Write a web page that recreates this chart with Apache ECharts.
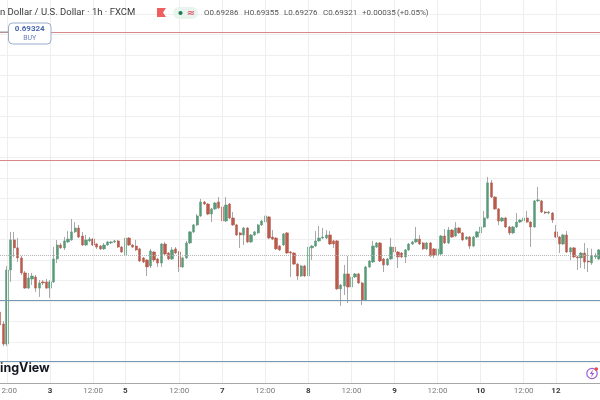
<!DOCTYPE html>
<html>
<head>
<meta charset="utf-8">
<script src="https://cdn.jsdelivr.net/npm/echarts@6/dist/echarts.min.js"></script>
<style>
html,body{margin:0;padding:0;background:#fff;}
#chart{width:600px;height:400px;}
</style>
</head>
<body>
<div id="chart"></div>
<script>
// ---- data (hourly AUD/USD candles) ----
const opens = [
0.69046,0.68988,0.68890,0.69251,0.69398,0.69359,0.69310,0.69237,0.69163,0.69207,
0.69217,0.69163,0.69193,0.69193,0.69163,0.69193,0.69305,0.69373,0.69359,0.69388,
0.69398,0.69437,0.69456,0.69417,0.69373,0.69393,0.69402,0.69378,0.69368,0.69354,
0.69373,0.69383,0.69388,0.69393,0.69363,0.69324,0.69407,0.69373,0.69368,0.69354,
0.69310,0.69300,0.69271,0.69339,0.69305,0.69285,0.69378,0.69334,0.69305,0.69354,
0.69339,0.69266,0.69310,0.69383,0.69437,0.69471,0.69515,0.69583,0.69573,0.69524,
0.69549,0.69583,0.69559,0.69490,0.69573,0.69505,0.69471,0.69432,0.69422,0.69456,
0.69388,0.69422,0.69432,0.69471,0.69485,0.69510,0.69412,0.69407,0.69368,0.69373,
0.69432,0.69339,0.69334,0.69280,0.69222,0.69271,0.69222,0.69359,0.69368,0.69393,
0.69407,0.69407,0.69422,0.69393,0.69393,0.69159,0.69173,0.69232,0.69168,0.69217,
0.69232,0.69188,0.69105,0.69266,0.69290,0.69363,0.69383,0.69305,0.69276,0.69305,
0.69363,0.69339,0.69334,0.69315,0.69349,0.69378,0.69388,0.69402,0.69383,0.69354,
0.69383,0.69354,0.69324,0.69329,0.69417,0.69383,0.69446,0.69417,0.69456,0.69432,
0.69402,0.69412,0.69368,0.69412,0.69432,0.69461,0.69505,0.69676,0.69607,0.69549,
0.69490,0.69505,0.69461,0.69432,0.69461,0.69485,0.69490,0.69505,0.69485,0.69461,
0.69588,0.69588,0.69534,0.69529,0.69529,0.69437,0.69412,0.69378,0.69422,0.69339,
0.69359,0.69315,0.69310,0.69334,0.69295,0.69286,0.69315,0.69305
];
const closes = [
0.68983,0.68890,0.69251,0.69398,0.69359,0.69310,0.69237,0.69163,0.69212,0.69222,
0.69163,0.69188,0.69188,0.69163,0.69193,0.69305,0.69373,0.69359,0.69393,0.69402,
0.69437,0.69456,0.69412,0.69373,0.69398,0.69402,0.69373,0.69363,0.69354,0.69373,
0.69388,0.69388,0.69393,0.69363,0.69339,0.69407,0.69373,0.69363,0.69349,0.69295,
0.69290,0.69266,0.69344,0.69300,0.69285,0.69378,0.69329,0.69305,0.69349,0.69334,
0.69266,0.69310,0.69383,0.69437,0.69471,0.69515,0.69583,0.69573,0.69524,0.69549,
0.69578,0.69554,0.69490,0.69568,0.69505,0.69471,0.69422,0.69422,0.69456,0.69388,
0.69422,0.69437,0.69471,0.69490,0.69515,0.69407,0.69402,0.69354,0.69349,0.69427,
0.69334,0.69334,0.69280,0.69222,0.69271,0.69222,0.69363,0.69368,0.69393,0.69407,
0.69412,0.69422,0.69378,0.69378,0.69159,0.69178,0.69232,0.69168,0.69217,0.69232,
0.69188,0.69105,0.69266,0.69295,0.69368,0.69383,0.69295,0.69276,0.69305,0.69363,
0.69339,0.69315,0.69315,0.69349,0.69378,0.69388,0.69402,0.69378,0.69354,0.69383,
0.69320,0.69324,0.69354,0.69417,0.69383,0.69446,0.69412,0.69456,0.69432,0.69398,
0.69412,0.69368,0.69412,0.69437,0.69461,0.69505,0.69676,0.69607,0.69549,0.69490,
0.69505,0.69461,0.69432,0.69461,0.69485,0.69495,0.69505,0.69485,0.69461,0.69588,
0.69593,0.69534,0.69529,0.69534,0.69495,0.69412,0.69378,0.69422,0.69339,0.69359,
0.69315,0.69310,0.69334,0.69290,0.69290,0.69321,0.69320,0.69349
];
const lows = [
0.68968,0.68880,0.68880,0.69193,0.69315,0.69290,0.69227,0.69159,0.69159,0.69178,
0.69144,0.69120,0.69178,0.69159,0.69115,0.69188,0.69285,0.69354,0.69349,0.69383,
0.69393,0.69432,0.69407,0.69368,0.69368,0.69388,0.69368,0.69354,0.69349,0.69349,
0.69368,0.69378,0.69383,0.69359,0.69334,0.69320,0.69368,0.69359,0.69344,0.69290,
0.69285,0.69222,0.69261,0.69290,0.69266,0.69266,0.69324,0.69300,0.69300,0.69329,
0.69241,0.69261,0.69305,0.69378,0.69432,0.69466,0.69510,0.69568,0.69519,0.69485,
0.69544,0.69549,0.69485,0.69485,0.69500,0.69466,0.69417,0.69359,0.69373,0.69383,
0.69383,0.69417,0.69427,0.69466,0.69480,0.69402,0.69398,0.69349,0.69344,0.69368,
0.69329,0.69217,0.69276,0.69202,0.69217,0.69217,0.69217,0.69300,0.69363,0.69388,
0.69402,0.69402,0.69373,0.69359,0.69154,0.69076,0.69129,0.69090,0.69163,0.69212,
0.69183,0.69080,0.69100,0.69261,0.69285,0.69359,0.69290,0.69241,0.69271,0.69300,
0.69334,0.69261,0.69310,0.69285,0.69344,0.69373,0.69383,0.69373,0.69349,0.69349,
0.69315,0.69310,0.69320,0.69324,0.69378,0.69378,0.69407,0.69412,0.69427,0.69393,
0.69398,0.69354,0.69363,0.69407,0.69344,0.69456,0.69500,0.69602,0.69544,0.69471,
0.69485,0.69456,0.69422,0.69427,0.69456,0.69480,0.69485,0.69480,0.69363,0.69456,
0.69583,0.69529,0.69524,0.69524,0.69480,0.69407,0.69334,0.69373,0.69334,0.69300,
0.69310,0.69251,0.69261,0.69256,0.69241,0.69276,0.69305,0.69300
];
const highs = [
0.69066,0.69002,0.69271,0.69437,0.69437,0.69407,0.69320,0.69246,0.69237,0.69237,
0.69227,0.69202,0.69202,0.69207,0.69202,0.69363,0.69398,0.69383,0.69412,0.69441,
0.69500,0.69485,0.69471,0.69437,0.69422,0.69412,0.69407,0.69383,0.69373,0.69383,
0.69393,0.69393,0.69398,0.69398,0.69368,0.69412,0.69412,0.69378,0.69398,0.69359,
0.69315,0.69305,0.69354,0.69344,0.69310,0.69383,0.69388,0.69339,0.69363,0.69363,
0.69344,0.69315,0.69393,0.69441,0.69476,0.69524,0.69598,0.69588,0.69578,0.69554,
0.69583,0.69607,0.69607,0.69607,0.69578,0.69534,0.69476,0.69437,0.69461,0.69461,
0.69427,0.69441,0.69476,0.69495,0.69554,0.69515,0.69446,0.69412,0.69373,0.69432,
0.69437,0.69344,0.69339,0.69285,0.69276,0.69276,0.69368,0.69373,0.69441,0.69466,
0.69456,0.69446,0.69441,0.69398,0.69398,0.69183,0.69276,0.69320,0.69222,0.69237,
0.69237,0.69193,0.69271,0.69300,0.69393,0.69388,0.69388,0.69310,0.69310,0.69407,
0.69368,0.69344,0.69339,0.69354,0.69383,0.69393,0.69461,0.69422,0.69388,0.69388,
0.69388,0.69359,0.69359,0.69422,0.69451,0.69461,0.69451,0.69485,0.69461,0.69437,
0.69417,0.69417,0.69417,0.69441,0.69466,0.69539,0.69705,0.69690,0.69612,0.69554,
0.69510,0.69510,0.69466,0.69466,0.69529,0.69500,0.69583,0.69539,0.69490,0.69593,
0.69656,0.69593,0.69539,0.69539,0.69534,0.69471,0.69417,0.69427,0.69441,0.69363,
0.69363,0.69320,0.69339,0.69383,0.69359,0.69355,0.69334,0.69354
];
// x-axis tick labels and the bar each one sits on
const tickBars   = [2, 14, 26, 35, 50, 62, 74, 86, 98, 110, 122, 134, 146, 155];
const tickLabels = ['12:00','3','12:00','5','12:00','7','12:00','8','12:00','9','12:00','10','12:00','12'];
// horizontal drawn levels
const resistanceLevels = [0.70413, 0.69788];
const supportLevels    = [0.69105, 0.68807];
const lastPrice = 0.69321;
// legend texts
const titleText = 'n Dollar / U.S. Dollar \u00b7 1h \u00b7 FXCM';
const legendItems = ['O0.69286', 'H0.69355', 'L0.69276', 'C0.69321', '+0.00035', '(+0.05%)'];
const buyPrice = '0.69324';

const N = opens.length;
[closes, lows, highs].forEach((a, k) => { if (a.length !== N) throw new Error('length mismatch ' + k + ' ' + a.length + ' vs ' + N); });

const categories = opens.map((_, i) => 'bar' + i);
const tickMap = {};
tickBars.forEach((b, i) => { tickMap[b] = tickLabels[i]; });

const full = opens.map((o, i) => [o, closes[i], lows[i], highs[i]]);
const bodies = opens.map((o, i) => [o, closes[i], Math.min(o, closes[i]), Math.max(o, closes[i])]);

const UP = '#5a9a7a', DOWN = '#b85a4c', WICK = '#a9a9a9';
const legendX = [204, 244, 284, 323, 362, 397];
const emptyLine = opens.map(() => null);
const noLabel = {show: false};

const chart = echarts.init(document.getElementById('chart'), null, {renderer: 'canvas'});
chart.setOption({
  animation: false,
  backgroundColor: '#ffffff',
  grid: {left: -1.97, right: -0.8, top: 0, bottom: 17, containLabel: false, outerBoundsMode: 'none'},
  xAxis: {
    type: 'category',
    data: categories,
    boundaryGap: true,
    axisLine: {show: true, lineStyle: {color: '#a8a8a8', width: 1}},
    axisTick: {show: false},
    splitLine: {show: false},
    axisLabel: {
      interval: (idx) => tickMap[idx] !== undefined,
      margin: 4,
      formatter: (v, idx) => {
        const t = tickMap[idx];
        if (t === undefined) return '';
        return t.indexOf(':') >= 0 ? '{t|' + t + '}' : '{d|' + t + '}';
      },
      rich: {
        t: {fontFamily: 'Roboto', fontSize: 8, color: '#7a7a7a'},
        d: {fontFamily: 'Roboto', fontSize: 8, color: '#3a3a3a', fontWeight: 'bold'}
      }
    }
  },
  yAxis: {
    type: 'value',
    position: 'right',
    min: 0.687,
    max: 0.70568,
    interval: 0.001,
    axisLabel: {show: false},
    axisLine: {show: false},
    axisTick: {show: false},
    splitLine: {show: true, showMinLine: false, showMaxLine: false, lineStyle: {color: '#efefef', width: 1}}
  },
  series: [
    {
      name: 'vgrid',
      type: 'line',
      data: emptyLine,
      z: 1,
      silent: true,
      showSymbol: false,
      markLine: {
        silent: true,
        symbol: ['none', 'none'],
        label: noLabel,
        lineStyle: {color: '#eeeeee', width: 1, type: 'solid'},
        data: tickBars.map(b => ({xAxis: categories[b]}))
      }
    },
    {
      name: 'levels',
      type: 'line',
      data: emptyLine,
      z: 1,
      silent: true,
      showSymbol: false,
      markLine: {
        silent: true,
        precision: 6,
        symbol: ['none', 'none'],
        label: noLabel,
        data: [
          ...resistanceLevels.map(v => ({yAxis: v, lineStyle: {color: '#d68a8a', width: 1, type: 'solid'}})),
          ...supportLevels.map(v => ({yAxis: v, lineStyle: {color: '#7898b6', width: 1, type: 'solid'}})),
          {yAxis: lastPrice, lineStyle: {color: '#b5b5b5', width: 1, type: 'dotted'}}
        ]
      }
    },
    {
      name: 'wicks',
      type: 'candlestick',
      data: full,
      barWidth: 1,
      z: 2,
      silent: true,
      itemStyle: {color: WICK, color0: WICK, borderColor: WICK, borderColor0: WICK, borderWidth: 1}
    },
    {
      name: 'bodies',
      type: 'candlestick',
      data: bodies,
      barWidth: 2.8,
      z: 3,
      silent: true,
      itemStyle: {color: UP, color0: DOWN, borderColor: UP, borderColor0: DOWN, borderWidth: 0.5}
    }
  ],
  graphic: {
    elements: [
      {type: 'text', x: 0, y: 13, z: 10, style: {text: titleText, font: '9.5px Roboto', fill: '#3a3a3a', verticalAlign: 'middle', align: 'left'}},
      {type: 'polygon', z: 10, shape: {points: [[157, 8], [166, 8], [163, 12.5], [166, 17], [157, 17]]}, style: {fill: '#ef5f5f'}},
      {type: 'rect', z: 10, shape: {x: 173, y: 7, width: 25, height: 12, r: 6}, style: {fill: '#e9f4ee'}},
      {type: 'circle', z: 11, shape: {cx: 180.5, cy: 13, r: 2.1}, style: {fill: '#1f7a52'}},
      {type: 'text', x: 191, y: 13, z: 11, style: {text: '\u2248', font: 'bold 10px "DejaVu Sans"', fill: '#e0566a', verticalAlign: 'middle', align: 'center'}},
      ...legendItems.map((t, i) => ({type: 'text', x: legendX[i], y: 13, z: 10, style: {text: t, font: '8px Roboto', fill: '#555555', verticalAlign: 'middle', align: 'left'}})),
      {type: 'line', z: 10, shape: {x1: 0, y1: 32, x2: 8, y2: 32}, style: {stroke: '#9a9a9a', lineWidth: 1}},
      {type: 'rect', z: 10, shape: {x: 8.5, y: 23, width: 42.5, height: 21, r: 4}, style: {fill: '#ffffff', stroke: '#9aaccb', lineWidth: 1}},
      {type: 'text', x: 29.75, y: 28.7, z: 11, style: {text: buyPrice, font: 'bold 8px Roboto', fill: '#4a68ad', verticalAlign: 'middle', align: 'center'}},
      {type: 'text', x: 29.75, y: 38, z: 11, style: {text: 'BUY', font: '7px Roboto', fill: '#6a80bb', verticalAlign: 'middle', align: 'center'}},
      {type: 'text', x: 0, y: 368.5, z: 10, style: {text: 'ingView', font: 'bold 12.5px Inter', fill: '#131722', verticalAlign: 'middle', align: 'left'}},
      {type: 'circle', z: 10, shape: {cx: 592, cy: 373.5, r: 5.2}, style: {fill: '#ffffff', stroke: '#9b5fd4', lineWidth: 1.2}},
      {type: 'polygon', z: 11, shape: {points: [[593, 369.5], [589.8, 374], [592, 374], [591, 377.5], [594.3, 373], [592.1, 373]]}, style: {fill: '#9b5fd4'}},
      {type: 'circle', z: 12, shape: {cx: 596.3, cy: 369, r: 1.8}, style: {fill: '#f04848'}}
    ]
  }
});
</script>
</body>
</html>
